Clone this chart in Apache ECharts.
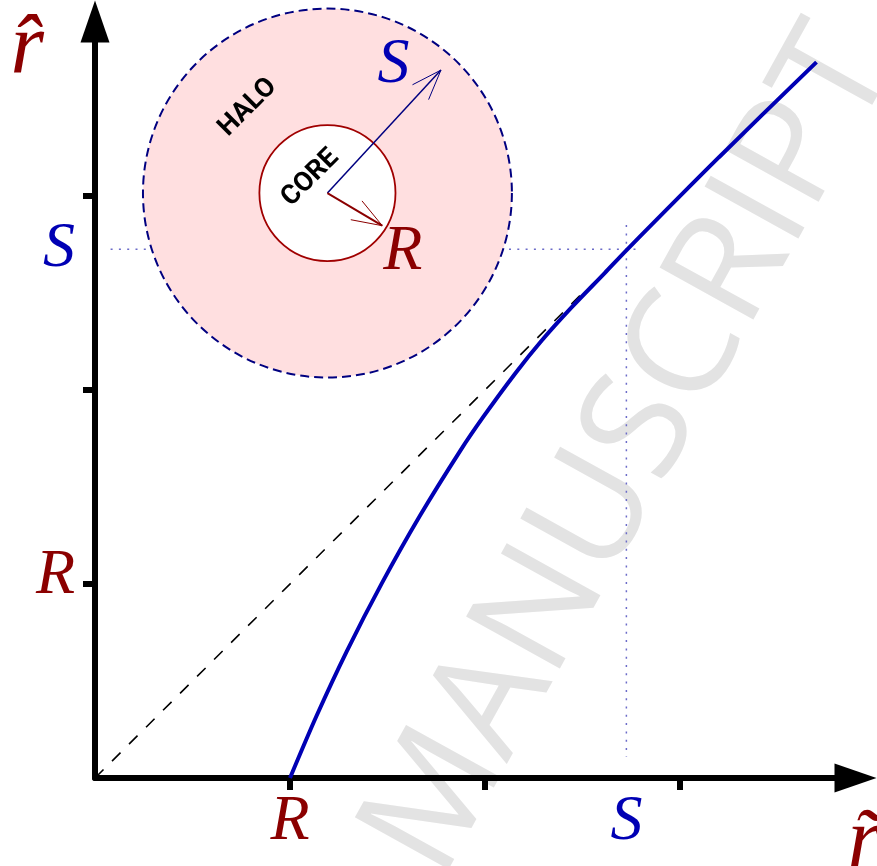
<!DOCTYPE html>
<html>
<head>
<meta charset="utf-8">
<script src="https://cdn.jsdelivr.net/npm/echarts@6/dist/echarts.min.js"></script>
<style>
  html, body { margin: 0; padding: 0; background: #fff; }
  #chart { width: 877px; height: 866px; }
</style>
</head>
<body>
<div id="chart"></div>
<script>
// All lengths in units of the core radius R.
const R = 1;
const S = 2.725;
const xTicks = [1, 2, 3];
const yTicks = [1, 2, 3];

// mapped radius r-hat against r-tilde
const curveX = [1.00, 1.137, 1.291, 1.47, 1.667, 1.872, 1.991, 2.154, 2.291, 2.445, 2.615, 2.725, 3.20, 3.70];
const curveY = [0.00, 0.322, 0.653, 1.002, 1.353, 1.685, 1.861, 2.084, 2.255, 2.427, 2.604, 2.72, 3.20, 3.69];

// identity reference (dashed) and the S guide lines (dotted)
const diagonal = [[0, 0], [2.5, 2.5]];
const guideH = [[0.08, S], [2.78, S]];
const guideV = [[S, 2.85], [S, 0.11]];

// inset sketch: halo / core, placed in data units
const insetCenter = [1.192, 3.015];
const haloRadius = 0.946;
const coreRadius = 0.349;
const haloArrowTip = [1.774, 3.649];
const coreArrowTip = [1.473, 2.847];
const haloTextPos = [0.784, 3.456];
const coreTextPos = [1.105, 3.093];
const sTextPos = [1.531, 3.673];
const rTextPos = [1.579, 2.709];

const RED = "#8b0000";
const BLUE = "#0000b4";
const NAVY = "#000080";
const SERIF = "'Liberation Serif', 'DejaVu Serif', serif";

const chart = echarts.init(document.getElementById("chart"), null, { renderer: "canvas" });

function arrowParts(api, from, tip, color, width) {
  const c = api.coord(from), t = api.coord(tip);
  const a = Math.atan2(t[1] - c[1], t[0] - c[0]);
  const len = 32, h = 20 * Math.PI / 180;
  return [
    { type: "line", shape: { x1: c[0], y1: c[1], x2: t[0], y2: t[1] },
      style: { stroke: color, lineWidth: width } },
    { type: "polyline", shape: { points: [
        [t[0] - len * Math.cos(a - h), t[1] - len * Math.sin(a - h)],
        [t[0], t[1]],
        [t[0] - len * Math.cos(a + h), t[1] - len * Math.sin(a + h)]] },
      style: { stroke: color, lineWidth: 1, fill: null } },
  ];
}

function label(api, pos, text, font, color, rot) {
  const p = api.coord(pos);
  return { type: "text", x: p[0], y: p[1], rotation: rot || 0,
    style: { text, font, fill: color, align: "center", verticalAlign: "middle",
      textAlign: "center", textVerticalAlign: "middle" } };
}

function renderInset(params, api) {
  const c = api.coord(insetCenter);
  const rh = api.size([haloRadius, 0])[0];
  const rc = api.size([coreRadius, 0])[0];
  const children = [
    { type: "circle", shape: { cx: c[0], cy: c[1], r: rh },
      style: { fill: "#ffdfe0", stroke: NAVY, lineWidth: 2, lineDash: [9, 5] } },
    { type: "circle", shape: { cx: c[0], cy: c[1], r: rc },
      style: { fill: "#fff", stroke: "#a00000", lineWidth: 1.8 } },
    label(api, haloTextPos, "HALO", "bold 27px Roboto", "#000", Math.PI / 4),
    label(api, coreTextPos, "CORE", "bold 27px Roboto", "#000", Math.PI / 4),
  ]
    .concat(arrowParts(api, insetCenter, haloArrowTip, NAVY, 1.5))
    .concat(arrowParts(api, insetCenter, coreArrowTip, RED, 2))
    .concat([
      label(api, sTextPos, "S", "italic 64px " + SERIF, BLUE),
      label(api, rTextPos, "R", "italic 64px " + SERIF, RED),
    ]);
  return { type: "group", children };
}

const tickLabelRich = {
  r: { color: RED, fontFamily: SERIF, fontStyle: "italic", fontSize: 64 },
  s: { color: BLUE, fontFamily: SERIF, fontStyle: "italic", fontSize: 64 },
};
const yLabelRich = {
  r: { color: RED, fontFamily: SERIF, fontStyle: "italic", fontSize: 64, padding: [0, 0, 15, 0] },
  s: { color: BLUE, fontFamily: SERIF, fontStyle: "italic", fontSize: 64 },
};
const fmt = (v) => (Math.abs(v - R) < 1e-6 ? "{r|R}" : "{s|S}");

chart.setOption({
  animation: false,
  backgroundColor: "#fff",
  grid: { left: 95, top: 21.4, right: 21.5, bottom: 88, containLabel: false, outerBoundsMode: "none" },
  xAxis: {
    type: "value", min: 0, max: 3.9, interval: 1,
    axisLine: { show: true, onZero: false, symbol: ["none", "triangle"], symbolSize: [29, 42],
      lineStyle: { color: "#000", width: 6 } },
    axisTick: { show: true, customValues: xTicks, length: 12, lineStyle: { color: "#000", width: 6 } },
    axisLabel: { show: true, customValues: [R, S], margin: 12, formatter: fmt, rich: tickLabelRich },
    splitLine: { show: false },
    name: "r\u0303", nameLocation: "end", nameGap: -8, nameMoveOverlap: false,
    nameTextStyle: { color: RED, fontFamily: SERIF, fontStyle: "italic", fontSize: 86,
      align: "left", verticalAlign: "top", padding: [23, 0, 0, 0] },
  },
  yAxis: {
    type: "value", min: 0, max: 3.9, interval: 1,
    axisLine: { show: true, onZero: false, symbol: ["none", "triangle"], symbolSize: [29, 42],
      lineStyle: { color: "#000", width: 6 } },
    axisTick: { show: true, customValues: yTicks, length: 12, lineStyle: { color: "#000", width: 6 } },
    axisLabel: { show: true, customValues: [R, S], margin: 20, formatter: fmt, rich: yLabelRich },
    splitLine: { show: false },
    name: "r\u0302", nameLocation: "end", nameGap: 14, nameMoveOverlap: false,
    nameTextStyle: { color: RED, fontFamily: SERIF, fontStyle: "italic", fontSize: 86,
      align: "right", verticalAlign: "top", padding: [0, 51, 0, 0] },
  },
  graphic: {
    elements: [{
      type: "text", x: 631, y: 452, rotation: 61 * Math.PI / 180, z: -100, silent: true,
      style: { text: "MANUSCRIPT", font: "500 150px 'Open Sans'", fill: "#e3e3e3",
        align: "center", verticalAlign: "middle", textAlign: "center", textVerticalAlign: "middle" },
    }],
  },
  series: [
    { name: "guideH", type: "line", data: guideH, symbol: "none", silent: true, z: 2,
      lineStyle: { color: "#6b6bc8", width: 1.5, type: [2, 6.3] } },
    { name: "guideV", type: "line", data: guideV, symbol: "none", silent: true, z: 2,
      lineStyle: { color: "#6b6bc8", width: 1.5, type: [2, 6.3] } },
    { name: "identity", type: "line", data: diagonal, symbol: "none", silent: true, z: 3,
      lineStyle: { color: "#000", width: 1.6, type: [12, 12] } },
    { name: "inset", type: "custom", data: [insetCenter], renderItem: renderInset, silent: true, z: 4, clip: false },
    { name: "curve", type: "line", data: curveX.map((x, i) => [x, curveY[i]]), symbol: "none",
      smooth: 0.3, silent: true, z: 5, lineStyle: { color: BLUE, width: 4 } },
  ],
});
</script>
</body>
</html>
